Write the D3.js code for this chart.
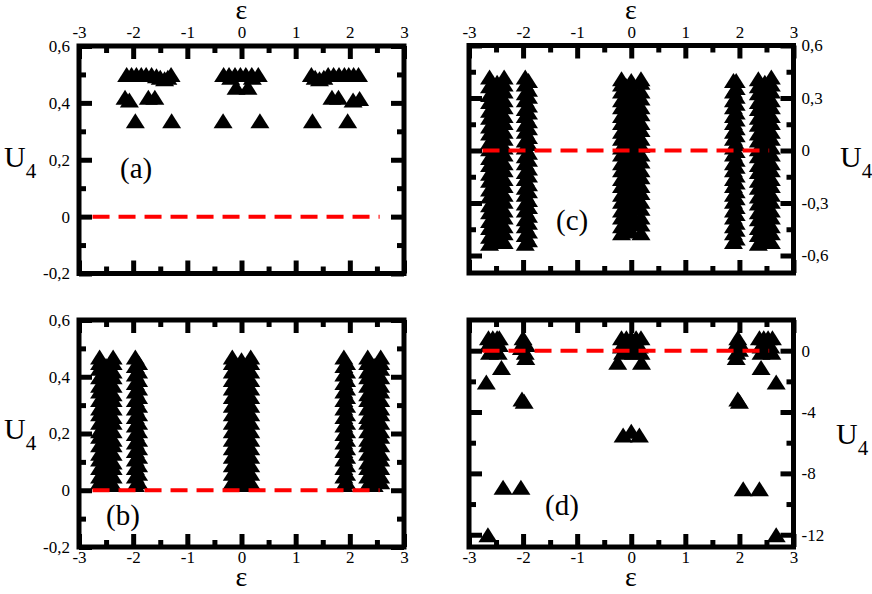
<!DOCTYPE html>
<html><head><meta charset="utf-8">
<script src="https://cdn.jsdelivr.net/npm/d3@7"></script>
<style>
body{margin:0;background:#fff}
svg{display:block}
svg text{font-family:"Liberation Serif","Times New Roman",Times,"DejaVu Serif",serif;fill:#000}
</style>
</head><body>
<svg id="chart" width="872" height="594"></svg>
<script>
// ---------- tick values ----------
const xTickVals = [-3, -2, -1, 0, 1, 2, 3];
const xMinorVals = [-2.5, -1.5, -0.5, 0.5, 1.5, 2.5];
const yTicksAB = [-0.2, 0, 0.2, 0.4, 0.6];
const yMinorAB = [-0.1, 0.1, 0.3, 0.5];
const yTicksC = [-0.6, -0.3, 0, 0.3, 0.6];
const yMinorC = [-0.45, -0.15, 0.15, 0.45];
const yTicksD = [-12, -8, -4, 0];
const yMinorD = [-10, -6, -2];

// red dashed reference line U4 = 0
const refEps = [-2.75, 2.55];
const refU4 = [0, 0];

// ---------- panel (a) ----------
const epsA = [-2.12,-2.03,-1.94,-1.85,-1.76,-1.66,-1.57,-1.50,-1.42,-1.36,-1.30,
  -0.33,-0.23,-0.12,-0.02,0.08,0.19,0.31,-0.20,0.20,
  -0.10,0.12,
  1.29,1.36,1.44,1.52,1.60,1.70,1.80,1.90,1.98,2.07,2.16,
  -2.15,-2.07,-1.72,-1.60,1.67,1.79,2.06,2.18,
  -1.96,-1.29,-0.34,0.34,1.31,1.96];
const u4A = [0.50,0.50,0.50,0.50,0.50,0.50,0.495,0.49,0.485,0.49,0.50,
  0.50,0.50,0.50,0.50,0.50,0.50,0.50,0.49,0.49,
  0.455,0.455,
  0.50,0.49,0.485,0.49,0.50,0.50,0.50,0.50,0.50,0.50,0.50,
  0.42,0.41,0.42,0.42,0.42,0.42,0.41,0.415,
  0.337,0.337,0.337,0.337,0.337,0.337];

// ---------- panel (b): one eps value per column of points ----------
const colEpsB = [-2.62,-2.50,-2.37,-1.96,-1.90,-0.17,-0.08,0.00,0.08,0.17,1.89,1.94,2.33,2.45,2.57];
const colU4B = [
  [0.03,0.05,0.08,0.11,0.13,0.16,0.19,0.21,0.24,0.27,0.29,0.32,0.35,0.37,0.40,0.43,0.45,0.47],
  [0.02,0.04,0.07,0.10,0.12,0.15,0.18,0.20,0.23,0.26,0.28,0.31,0.34,0.36,0.39,0.42,0.44],
  [0.02,0.05,0.08,0.10,0.13,0.16,0.18,0.21,0.24,0.26,0.29,0.32,0.34,0.37,0.40,0.42,0.45,0.47],
  [0.02,0.05,0.08,0.11,0.14,0.17,0.20,0.23,0.26,0.29,0.32,0.35,0.38,0.41,0.44,0.47],
  [0.03,0.06,0.09,0.12,0.15,0.18,0.21,0.24,0.27,0.30,0.33,0.36,0.39,0.42,0.45],
  [0.03,0.06,0.09,0.12,0.15,0.18,0.21,0.24,0.27,0.30,0.33,0.36,0.39,0.42,0.45,0.47],
  [0.04,0.10,0.16,0.22,0.28,0.34,0.40],
  [0.02,0.05,0.08,0.11,0.14,0.17,0.20,0.23,0.26,0.29,0.32,0.35,0.38,0.41,0.44,0.46],
  [0.07,0.13,0.19,0.25,0.31,0.37,0.43],
  [0.03,0.06,0.09,0.12,0.15,0.18,0.21,0.24,0.27,0.30,0.33,0.36,0.39,0.42,0.45,0.47],
  [0.02,0.05,0.08,0.11,0.14,0.17,0.20,0.23,0.26,0.29,0.32,0.35,0.38,0.41,0.44,0.47],
  [0.03,0.06,0.09,0.12,0.15,0.18,0.21,0.24,0.27,0.30,0.33,0.36,0.39,0.42,0.45],
  [0.02,0.05,0.08,0.10,0.13,0.16,0.18,0.21,0.24,0.26,0.29,0.32,0.34,0.37,0.40,0.42,0.45,0.47],
  [0.02,0.04,0.07,0.10,0.12,0.15,0.18,0.20,0.23,0.26,0.28,0.31,0.34,0.36,0.39,0.42,0.44],
  [0.03,0.05,0.08,0.11,0.13,0.16,0.19,0.21,0.24,0.27,0.29,0.32,0.35,0.37,0.40,0.43,0.45,0.47]
];

// ---------- panel (c): one eps value per column of points ----------
const colEpsC = [-2.62,-2.48,-2.35,-1.96,-1.90,-0.18,-0.09,0.00,0.09,0.18,1.89,1.94,2.35,2.47,2.59];
const colU4C = [
  [-0.53,-0.49,-0.44,-0.40,-0.35,-0.31,-0.26,-0.22,-0.17,-0.13,-0.08,-0.04,0.01,0.05,0.10,0.14,0.19,0.23,0.28,0.32,0.37,0.42],
  [-0.51,-0.46,-0.42,-0.37,-0.33,-0.28,-0.24,-0.19,-0.15,-0.10,-0.06,-0.01,0.03,0.08,0.12,0.17,0.21,0.26,0.30,0.35,0.39],
  [-0.52,-0.47,-0.43,-0.38,-0.34,-0.29,-0.25,-0.20,-0.16,-0.11,-0.07,-0.02,0.02,0.07,0.11,0.16,0.20,0.25,0.29,0.34,0.38,0.42],
  [-0.53,-0.48,-0.43,-0.39,-0.34,-0.30,-0.25,-0.21,-0.16,-0.12,-0.07,-0.03,0.02,0.06,0.11,0.15,0.20,0.24,0.29,0.33,0.38,0.42],
  [-0.51,-0.46,-0.41,-0.37,-0.32,-0.28,-0.23,-0.19,-0.14,-0.10,-0.05,-0.01,0.04,0.08,0.13,0.17,0.22,0.26,0.31,0.35,0.40],
  [-0.47,-0.43,-0.38,-0.34,-0.29,-0.25,-0.20,-0.16,-0.11,-0.07,-0.02,0.02,0.07,0.11,0.16,0.20,0.25,0.29,0.34,0.38,0.41],
  [-0.44,-0.35,-0.26,-0.17,-0.08,0.01,0.10,0.19,0.28,0.37],
  [-0.46,-0.41,-0.36,-0.32,-0.27,-0.23,-0.18,-0.14,-0.09,-0.05,0.00,0.04,0.09,0.13,0.18,0.22,0.27,0.31,0.36,0.40],
  [-0.40,-0.31,-0.22,-0.13,-0.04,0.05,0.14,0.23,0.32],
  [-0.47,-0.42,-0.38,-0.33,-0.29,-0.24,-0.20,-0.15,-0.11,-0.06,-0.02,0.03,0.07,0.12,0.16,0.21,0.25,0.30,0.34,0.39,0.41],
  [-0.52,-0.47,-0.43,-0.38,-0.34,-0.29,-0.25,-0.20,-0.16,-0.11,-0.07,-0.02,0.02,0.07,0.11,0.16,0.20,0.25,0.29,0.34,0.40],
  [-0.50,-0.45,-0.41,-0.36,-0.32,-0.27,-0.23,-0.18,-0.14,-0.09,-0.05,0.00,0.04,0.09,0.13,0.18,0.22,0.27,0.31,0.36,0.40],
  [-0.53,-0.48,-0.44,-0.39,-0.35,-0.30,-0.26,-0.21,-0.17,-0.12,-0.08,-0.03,0.01,0.06,0.10,0.15,0.19,0.24,0.28,0.33,0.37,0.41],
  [-0.51,-0.46,-0.42,-0.37,-0.33,-0.28,-0.24,-0.19,-0.15,-0.10,-0.06,-0.01,0.03,0.08,0.12,0.17,0.21,0.26,0.30,0.35,0.39],
  [-0.52,-0.47,-0.43,-0.38,-0.34,-0.29,-0.25,-0.20,-0.16,-0.11,-0.07,-0.02,0.02,0.07,0.11,0.16,0.20,0.25,0.29,0.34,0.38,0.42]
];

// ---------- panel (d) ----------
const epsD = [-2.64,-2.56,-2.48,-2.44,-2.64,-2.54,-2.44,-2.62,-2.50,-2.46,-2.60,
  -2.00,-1.94,-2.03,-1.96,-1.95,-1.99,
  -2.68,-2.40,-2.02,-1.98,-2.37,-2.04,-2.65,
  -0.18,-0.09,0.00,0.09,0.18,-0.18,-0.06,0.06,0.15,-0.16,0.04,0.18,-0.10,0.10,
  -0.25,0.19,-0.15,0.00,0.15,
  1.97,1.93,2.00,1.95,1.94,1.99,
  2.37,2.45,2.53,2.61,2.40,2.50,2.58,2.40,2.60,2.45,2.55,
  2.40,2.68,1.97,2.00,2.07,2.37,2.68];
const u4D = [0.85,0.85,0.85,0.85,0.40,0.30,0.40,-0.10,-0.05,-0.10,0.60,
  0.85,0.40,0.20,-0.10,-0.45,0.60,
  -2.05,-1.10,-3.15,-3.30,-8.90,-8.90,-12.00,
  0.85,0.85,0.85,0.85,0.85,0.30,0.50,0.50,0.30,-0.10,-0.10,-0.10,0.20,0.20,
  -0.75,-0.75,-5.50,-5.25,-5.50,
  0.85,0.40,0.10,-0.10,-0.45,0.60,
  0.85,0.85,0.85,0.85,0.30,0.50,0.30,-0.10,-0.10,0.60,0.10,
  -1.10,-2.05,-3.15,-3.30,-9.00,-9.00,-12.00];

// ---------- build points ----------
const zip = (a, b) => a.map((v, i) => [v, b[i]]);
const ptsA = zip(epsA, u4A);
const ptsB = colEpsB.flatMap((e, i) => colU4B[i].map(u => [e, u]));
const ptsC = colEpsC.flatMap((e, i) => colU4C[i].map(u => [e, u]));
const ptsD = zip(epsD, u4D);
const refPts = zip(refEps, refU4);

const fmt = d => String(d).replace('.', ',');
const FONT = '"Liberation Serif","Times New Roman",Times,"DejaVu Serif",serif';

const panels = [
  {x0:79, x1:404, y0:46, y1:273.5, yDom:[-0.2,0.6], yT:yTicksAB, yM:yMinorAB, ySide:'left', xSide:'top', pts:ptsA,
   label:'(a)', lx:120, ly:178, ux:4, uy:167, ex:241.5, ey:19},
  {x0:79, x1:404, y0:320, y1:547, yDom:[-0.2,0.6], yT:yTicksAB, yM:yMinorAB, ySide:'left', xSide:'bottom', pts:ptsB,
   label:'(b)', lx:106, ly:525, ux:4, uy:439, ex:241.5, ey:586},
  {x0:469, x1:793.5, y0:45.5, y1:273, yDom:[-0.7,0.6], yT:yTicksC, yM:yMinorC, ySide:'right', xSide:'top', pts:ptsC,
   label:'(c)', lx:556, ly:230, ux:840, uy:167, ex:631, ey:19},
  {x0:469, x1:793.5, y0:320, y1:547, yDom:[-12.8,2], yT:yTicksD, yM:yMinorD, ySide:'right', xSide:'bottom', pts:ptsD,
   label:'(d)', lx:545, ly:515, ux:836, uy:444, ex:631, ey:586}
];

const svg = d3.select('#chart');
const triangle = { draw(ctx) { ctx.moveTo(0,-7.5); ctx.lineTo(9.5,7.5); ctx.lineTo(-9.5,7.5); ctx.closePath(); } };
const triPath = d3.symbol(triangle)();

function styleAxis(g, labels) {
  g.select('.domain').remove();
  g.selectAll('.tick line').attr('stroke', '#000').attr('stroke-width', 5);
  g.attr('font-family', FONT).attr('font-size', 17);
  if (!labels) g.selectAll('.tick text').remove();
}

panels.forEach(p => {
  const x = d3.scaleLinear().domain([-3, 3]).range([p.x0, p.x1]);
  const y = d3.scaleLinear().domain(p.yDom).range([p.y1, p.y0]);
  const g = svg.append('g');

  g.append('g').selectAll('path').data(p.pts).join('path')
    .attr('d', triPath)
    .attr('transform', d => `translate(${x(d[0])},${y(d[1])})`)
    .attr('fill', '#000');

  g.append('path')
    .attr('d', d3.line().x(d => x(d[0])).y(d => y(d[1]))(refPts))
    .attr('fill', 'none').attr('stroke', '#ff0000').attr('stroke-width', 4)
    .attr('stroke-dasharray', '17,9');

  const sides = [
    [d3.axisTop(x), `translate(0,${p.y0})`, xTickVals, p.xSide === 'top', 8],
    [d3.axisBottom(x), `translate(0,${p.y1})`, xTickVals, p.xSide === 'bottom', 4],
    [d3.axisLeft(y), `translate(${p.x0},0)`, p.yT, p.ySide === 'left', 9],
    [d3.axisRight(y), `translate(${p.x1},0)`, p.yT, p.ySide === 'right', 8]
  ];
  sides.forEach(([ax, tr, major, labels, pad]) => {
    g.append('g').attr('transform', tr)
      .call(ax.tickValues(major).tickSize(-13).tickSizeOuter(0).tickPadding(pad).tickFormat(fmt))
      .call(s => styleAxis(s, labels));
  });
  const minorSides = [
    [d3.axisTop(x), `translate(0,${p.y0})`, xMinorVals],
    [d3.axisBottom(x), `translate(0,${p.y1})`, xMinorVals],
    [d3.axisLeft(y), `translate(${p.x0},0)`, p.yM],
    [d3.axisRight(y), `translate(${p.x1},0)`, p.yM]
  ];
  minorSides.forEach(([ax, tr, vals]) => {
    g.append('g').attr('transform', tr)
      .call(ax.tickValues(vals).tickSize(-7).tickSizeOuter(0).tickFormat(''))
      .call(s => styleAxis(s, false));
  });

  g.append('rect').attr('x', p.x0).attr('y', p.y0)
    .attr('width', p.x1 - p.x0).attr('height', p.y1 - p.y0)
    .attr('fill', 'none').attr('stroke', '#000').attr('stroke-width', 5);

  g.append('text').attr('x', p.lx).attr('y', p.ly).attr('font-family', FONT).attr('font-size', 29).text(p.label);
  const u = g.append('text').attr('x', p.ux).attr('y', p.uy).attr('font-family', FONT).attr('font-size', 30);
  u.append('tspan').text('U');
  u.append('tspan').attr('dy', 11).attr('font-size', 21).text('4');
  g.append('text').attr('x', p.ex).attr('y', p.ey).attr('text-anchor', 'middle').attr('font-family', FONT).attr('font-size', 28).text('ε');
});
</script>
</body></html>
